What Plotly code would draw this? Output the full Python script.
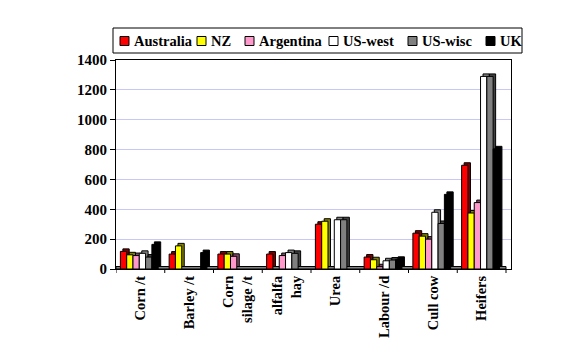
import plotly.graph_objects as go

categories = ["Corn /t", "Barley /t", "Corn<br>silage /t", "alfalfa<br>hay", "Urea",
              "Labour /d", "Cull cow", "Heifers"]
series_names = ["Australia", "NZ", "Argentina", "US-west", "US-wisc", "UK"]
australia = [118, 100, 100, 100, 300, 80, 240, 695]
nz = [95, 155, 100, None, 320, 62, 220, 375]
argentina = [90, None, 85, 90, None, 15, 200, 445]
us_west = [105, None, None, 110, 330, 55, 380, 1290]
us_wisc = [80, None, None, 105, 330, 60, 305, 1290]
uk = [165, 110, None, None, None, 65, 500, 805]
values = [australia, nz, argentina, us_west, us_wisc, uk]

front_colors = ["#ff0000", "#ffff00", "#ff99cc", "#ffffff", "#808080", "#000000"]
side_colors = ["#800000", "#808000", "#804c66", "#808080", "#404040", "#000000"]

OFF = 8  # default body margin of the html page
W, H = 586 - OFF, 357 - OFF
L, T = 116 - OFF, 60 - OFF
R, B = 75, 88
PW, PH = W - L - R, H - T - B
FONT = "Liberation Serif"

cat_px = 48.75
bar_w = 6.3 / cat_px
start = -0.41
dx = 2.5 / cat_px
dy = 2.5 * 1400 / PH

x_idx = list(range(len(categories)))
fig = go.Figure()
for i, (name, vals) in enumerate(zip(series_names, values)):
    off = start + i * bar_w
    fig.add_trace(go.Bar(
        x=x_idx, y=vals, base=dy, offset=off + dx, width=bar_w,
        marker=dict(color=side_colors[i], line=dict(color="black", width=1)),
        showlegend=False, hoverinfo="skip"))
    fig.add_trace(go.Bar(
        x=x_idx, y=vals, offset=off, width=bar_w, name=name,
        marker=dict(color=front_colors[i], line=dict(color="black", width=1)),
        showlegend=False))

def px2x(px):
    return (px - OFF - L) / PW

def px2y(py):
    return 1 - (py - OFF - T) / PH

shapes = []
annotations = []
# floor
shapes.append(dict(type="rect", xref="paper", yref="y", x0=0, x1=px2x(506), y0=0, y1=dy,
                   fillcolor="#808080", line=dict(color="black", width=1), layer="below"))
# legend box
shapes.append(dict(type="rect", xref="paper", yref="paper", x0=px2x(113), x1=px2x(522),
                   y0=px2y(53), y1=px2y(28), line=dict(color="black", width=1),
                   fillcolor="white"))
sym_px = [120, 197, 245, 329, 408, 486]
for i, name in enumerate(series_names):
    shapes.append(dict(type="rect", xref="paper", yref="paper", x0=px2x(sym_px[i]),
                       x1=px2x(sym_px[i] + 9), y0=px2y(45.5), y1=px2y(36.5),
                       fillcolor=front_colors[i], line=dict(color="black", width=1)))
    annotations.append(dict(xref="paper", yref="paper", x=px2x(sym_px[i] + 11.5), y=px2y(41),
                            xanchor="left", yanchor="middle", showarrow=False, text="<b>" + name + "</b>",
                            font=dict(family=FONT, size=14.5, color="black")))
# boundary tick marks between categories
for b in range(len(categories) + 1):
    shapes.append(dict(type="line", xref="x", yref="paper", x0=b - 0.5, x1=b - 0.5,
                       y0=0, y1=-4 / PH, line=dict(color="black", width=1)))

fig.update_layout(
    width=W, height=H, autosize=False,
    margin=dict(l=L, r=R, t=T, b=B, pad=0),
    paper_bgcolor="white", plot_bgcolor="white",
    barmode="overlay", showlegend=False,
    shapes=shapes, annotations=annotations,
    font=dict(family=FONT, size=15, color="black"),
)
fig.update_xaxes(
    type="linear", range=[-0.5, 7.5 + 5 / cat_px],
    tickmode="array", tickvals=x_idx, ticktext=["<b>" + c.replace("<br>", "</b><br><b>") + "</b>" for c in categories],
    tickangle=-90,
    tickfont=dict(family=FONT, size=14.5, color="black"),
    showline=True, linecolor="black", linewidth=1, mirror=True,
    showgrid=False, zeroline=False, ticks="",
)
fig.update_yaxes(
    range=[0, 1400], dtick=200,
    tickvals=[0, 200, 400, 600, 800, 1000, 1200, 1400],
    ticktext=["<b>%d</b>" % v for v in [0, 200, 400, 600, 800, 1000, 1200, 1400]],
    tickfont=dict(family=FONT, size=15, color="black"),
    showline=True, linecolor="black", linewidth=1, mirror=True,
    ticks="outside", ticklen=5, tickcolor="black",
    showgrid=True, gridcolor="#c8c8f8", gridwidth=1, zeroline=False,
)

fig.write_html("out.html")
